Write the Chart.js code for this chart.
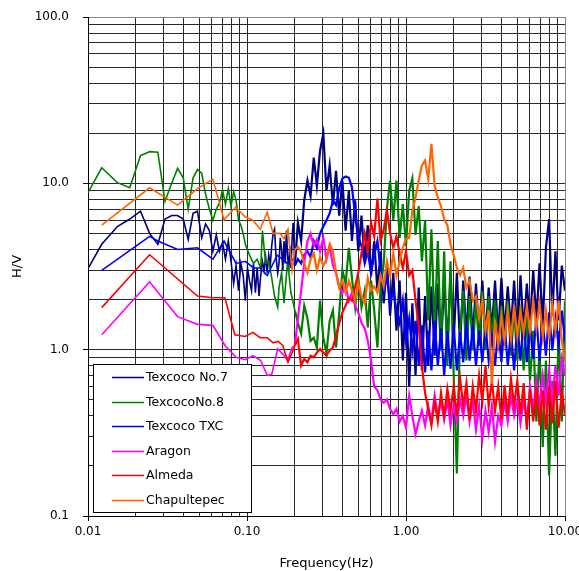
<!DOCTYPE html>
<html>
<head>
<meta charset="utf-8">
<script src="https://cdn.jsdelivr.net/npm/chart.js@4.4.0/dist/chart.umd.min.js"></script>
<style>
  body { margin: 0; background: #fff; }
  canvas { display: block; }
</style>
</head>
<body>
<canvas id="myChart" width="579" height="571"></canvas>
<script>
// Frecuencias comunes para la parte densa (0.2 - 10 Hz)
const freqHi = [
  0.200, 0.209, 0.219, 0.229, 0.240, 0.251, 0.263, 0.275, 0.288, 0.302,
  0.316, 0.331, 0.347, 0.363, 0.380, 0.398, 0.417, 0.437, 0.457, 0.479,
  0.501, 0.525, 0.550, 0.575, 0.603, 0.631, 0.661, 0.692, 0.724, 0.759,
  0.794, 0.832, 0.871, 0.912, 0.955, 1.000, 1.047, 1.096, 1.148, 1.202,
  1.259, 1.318, 1.380, 1.445, 1.514, 1.585, 1.660, 1.738, 1.820, 1.905,
  1.995, 2.089, 2.188, 2.291, 2.399, 2.512, 2.630, 2.754, 2.884, 3.020,
  3.162, 3.311, 3.467, 3.631, 3.802, 3.981, 4.169, 4.365, 4.571, 4.786,
  5.012, 5.248, 5.495, 5.754, 6.026, 6.310, 6.607, 6.918, 7.244, 7.586,
  7.943, 8.318, 8.710, 9.120, 9.550, 10.00
]

// Texcoco No.7
const tx7Freq = [0.01, 0.0122, 0.0153, 0.0183, 0.0214, 0.0244, 0.0275, 0.0305, 0.0336, 0.0366,
  0.0397, 0.0427, 0.0458, 0.0488, 0.0519, 0.0549, 0.058, 0.061, 0.0641, 0.0671,
  0.0702, 0.0732, 0.0763, 0.0793, 0.0824, 0.0854, 0.0885, 0.0915, 0.0946, 0.0976,
  0.1007, 0.1037, 0.1068, 0.1098, 0.1129, 0.1159, 0.119, 0.122, 0.125, 0.128,
  0.131, 0.134, 0.137, 0.140, 0.143, 0.146, 0.149, 0.152, 0.156, 0.159,
  0.162, 0.165, 0.168, 0.171, 0.174, 0.177, 0.180, 0.183, 0.186, 0.189, 0.192, 0.195]
const tx7Low = [3.07, 4.3, 5.5, 6.1, 6.8, 5.0, 4.3, 6.1, 6.4, 6.4,
  6.1, 4.6, 6.6, 6.8, 4.7, 5.7, 5.2, 3.9, 4.9, 3.9,
  4.4, 3.5, 4.5, 3.4, 2.5, 3.2, 2.26, 3.3, 2.8, 1.97,
  3.1, 2.6, 2.26, 3.3, 2.2, 3.1, 2.1, 2.8, 3.4, 3.0,
  3.6, 2.9, 3.7, 3.2, 4.2, 5.0, 5.3, 3.7, 2.9, 3.3,
  4.7, 4.0, 3.0, 4.5, 3.3, 5.2, 3.7, 3.0, 4.2, 3.1, 4.5, 5.8]
const tx7Hi = [
  3.2, 5.8, 4.5, 7.9, 10.4, 8.4, 14.3, 9.7, 15.7, 19.9,
  9.0, 12.8, 7.4, 11.9, 6.4, 10.4, 5.2, 9.0, 4.5, 7.9,
  3.9, 6.4, 3.4, 5.6, 2.8, 4.5, 2.26, 3.9, 1.9, 3.3,
  1.6, 2.9, 1.3, 2.6, 0.86, 2.2, 0.6, 1.9, 0.7, 2.36,
  0.75, 2.1, 0.8, 2.4, 0.92, 2.5, 0.99, 2.7, 1.06, 2.8,
  1.13, 2.9, 1.06, 2.6, 1.2, 2.75, 1.16, 2.5, 1.26, 2.6,
  1.2, 2.36, 1.3, 2.6, 1.2, 2.7, 1.26, 2.4, 1.34, 2.6,
  1.2, 2.8, 1.3, 2.5, 1.4, 3.0, 1.5, 3.3, 1.4, 4.1,
  6.1, 1.6, 3.9, 1.5, 3.2, 2.26]

// TexcocoNo.8
const tx8Freq = [0.01, 0.0122, 0.0153, 0.0183, 0.0214, 0.0244, 0.0275, 0.0305, 0.0336, 0.0366,
  0.0397, 0.0427, 0.0458, 0.0488, 0.0519, 0.0549, 0.058, 0.061, 0.0641, 0.0671,
  0.0702, 0.0732, 0.0763, 0.0793, 0.0824, 0.0854, 0.0885, 0.0915, 0.0946, 0.0976,
  0.1037, 0.1098, 0.1159, 0.122, 0.125, 0.131, 0.137, 0.143, 0.149, 0.156,
  0.159, 0.165, 0.171, 0.180, 0.189]
const tx8Low = [8.8, 12.4, 10.1, 9.4, 14.7, 15.5, 15.4, 7.8, 10.0, 12.3,
  10.8, 7.0, 10.8, 12.1, 11.5, 8.6, 7.0, 6.0, 7.0, 7.6,
  9.1, 7.5, 9.3, 7.3, 8.9, 7.9, 6.0, 5.6, 5.0, 4.3,
  3.7, 3.3, 3.5, 3.1, 5.2, 3.3, 3.4, 2.7, 2.1, 1.8,
  2.36, 2.9, 1.9, 3.4, 2.2]
const tx8Hi = [
  1.72, 1.45, 1.25, 1.84, 1.54, 1.13, 1.18, 1.03, 1.97, 1.18,
  0.95, 1.49, 1.72, 1.03, 1.65, 3.0, 2.5, 4.1, 2.7, 1.8,
  2.7, 1.8, 2.26, 1.36, 2.6, 1.72, 1.03, 2.36, 3.3, 7.1,
  10.4, 6.0, 10.4, 4.7, 7.5, 4.2, 9.0, 10.7, 4.9, 7.3,
  3.4, 6.0, 1.5, 5.3, 1.3, 4.5, 1.0, 3.9, 0.8, 3.4,
  0.7, 0.18, 1.3, 2.26, 0.86, 2.1, 0.99, 1.97, 1.06, 2.26,
  1.0, 2.1, 1.13, 1.97, 0.99, 1.84, 1.06, 1.97, 0.92, 1.72,
  0.86, 1.84, 0.75, 1.6, 0.65, 1.3, 0.37, 1.06, 0.26, 0.86,
  0.175, 0.65, 0.23, 1.3, 0.37, 1.97]

// Texcoco TXC
const txcFreq = [0.0122, 0.0244, 0.0275, 0.0366, 0.0488, 0.061, 0.0717, 0.0854, 0.0976, 0.11,
  0.121, 0.134, 0.155, 0.18, 0.195]
const txcLow = [3.0, 4.8, 4.5, 4.0, 4.1, 3.5, 4.5, 3.3, 3.4, 3.1,
  3.1, 2.8, 3.7, 3.3, 3.5]
const txcHi = [
  3.2, 3.5, 3.3, 3.7, 3.9, 3.6, 4.5, 4.1, 5.0, 5.5,
  6.0, 6.6, 7.9, 7.4, 9.3, 10.7, 11.0, 10.8, 9.5, 6.4,
  4.8, 4.2, 3.3, 3.9, 2.9, 3.7, 4.5, 3.0, 2.2, 2.8,
  1.9, 2.26, 1.72, 1.45, 1.97, 1.13, 1.54, 0.99, 1.49, 0.8,
  1.4, 0.73, 1.3, 0.75, 1.49, 0.8, 1.34, 0.7, 1.3, 0.77,
  1.4, 0.75, 1.27, 0.84, 1.45, 0.86, 1.4, 0.8, 1.3, 0.84,
  1.4, 0.86, 1.2, 0.8, 1.34, 0.84, 1.45, 0.8, 1.3, 0.75,
  1.4, 0.86, 1.54, 0.84, 1.4, 0.88, 1.6, 0.86, 1.49, 0.92,
  1.67, 0.99, 1.54, 1.06, 1.72, 1.13]

// Aragon
const aragonFreq = [0.0122, 0.0244, 0.0366, 0.0488, 0.061, 0.0732, 0.0854, 0.0976, 0.109, 0.122,
  0.134, 0.143, 0.156, 0.168, 0.18, 0.192]
const aragonLow = [1.23, 2.55, 1.58, 1.42, 1.40, 1.05, 0.90, 0.87, 0.92, 0.86,
  0.70, 0.71, 1.01, 0.94, 0.86, 1.03]
const aragonHi = [
  1.06, 1.54, 2.26, 3.3, 4.5, 5.0, 4.2, 4.6, 3.9, 4.7,
  3.5, 4.2, 3.2, 2.9, 2.4, 2.2, 2.4, 1.97, 2.2, 1.84,
  1.67, 1.45, 1.34, 1.13, 0.86, 0.6, 0.57, 0.5, 0.48, 0.5,
  0.44, 0.41, 0.44, 0.37, 0.4, 0.34, 0.53, 0.4, 0.31, 0.37,
  0.43, 0.35, 0.46, 0.37, 0.53, 0.4, 0.49, 0.38, 0.5, 0.35,
  0.46, 0.37, 0.5, 0.4, 0.53, 0.37, 0.49, 0.33, 0.46, 0.29,
  0.43, 0.32, 0.46, 0.28, 0.4, 0.35, 0.49, 0.37, 0.53, 0.4,
  0.49, 0.36, 0.5, 0.37, 0.6, 0.43, 0.65, 0.46, 0.7, 0.49,
  0.75, 0.5, 0.8, 0.53, 0.88, 0.7]

// Almeda
const almedaFreq = [0.0122, 0.0244, 0.0488, 0.061, 0.0726, 0.0838, 0.0972, 0.109, 0.121, 0.134,
  0.146, 0.157, 0.168, 0.181, 0.195]
const almedaLow = [1.79, 3.72, 2.1, 2.05, 2.05, 1.23, 1.2, 1.27, 1.18, 1.18,
  1.1, 1.12, 1.06, 0.84, 0.99]
const almedaHi = [
  1.06, 1.16, 0.8, 0.88, 0.84, 0.92, 0.9, 0.96, 1.01, 0.96,
  0.92, 0.99, 1.03, 1.21, 1.43, 1.67, 1.84, 2.05, 1.97, 2.4,
  2.9, 3.8, 5.0, 3.9, 5.8, 4.8, 8.1, 4.5, 5.3, 6.85,
  5.0, 4.1, 4.8, 3.8, 3.1, 3.9, 2.8, 3.0, 1.97, 1.4,
  0.8, 0.55, 0.44, 0.35, 0.49, 0.37, 0.55, 0.4, 0.58, 0.43,
  0.6, 0.4, 0.67, 0.46, 0.63, 0.38, 0.6, 0.43, 0.7, 0.49,
  0.8, 0.46, 0.65, 0.43, 0.6, 0.38, 0.61, 0.4, 0.67, 0.46,
  0.65, 0.41, 0.63, 0.33, 0.58, 0.37, 0.6, 0.35, 0.57, 0.33,
  0.6, 0.36, 0.65, 0.34, 0.57, 0.4]

// Chapultepec
const chapuFreq = [0.0122, 0.0244, 0.0366, 0.0488, 0.061, 0.0717, 0.085, 0.0972, 0.109, 0.121,
  0.134, 0.146, 0.161, 0.171, 0.181, 0.192]
const chapuLow = [5.6, 9.4, 7.4, 9.3, 10.6, 6.05, 7.2, 6.3, 6.0, 5.3,
  6.7, 5.0, 5.0, 4.65, 5.3, 3.0]
const chapuHi = [
  4.0, 4.15, 3.9, 3.3, 2.9, 3.5, 3.8, 3.0, 3.6, 3.2,
  3.5, 4.3, 3.9, 2.9, 2.36, 2.6, 2.2, 2.6, 2.26, 1.97,
  2.5, 2.1, 1.9, 2.7, 2.26, 2.4, 2.2, 2.8, 2.4, 3.4,
  2.8, 3.8, 2.8, 3.4, 4.1, 4.65, 4.7, 6.85, 8.2, 10.4,
  12.8, 13.7, 10.6, 17.3, 9.7, 8.2, 7.3, 6.1, 5.6, 4.3,
  3.7, 3.1, 2.8, 3.1, 2.36, 2.6, 1.97, 2.1, 1.54, 1.97,
  1.3, 1.72, 0.62, 1.49, 1.06, 1.6, 1.13, 1.72, 1.16, 1.84,
  1.2, 1.72, 1.26, 1.84, 1.3, 1.97, 1.34, 1.9, 1.2, 1.72,
  1.16, 1.9, 1.3, 1.97, 1.13, 0.86]

// Rejilla y etiquetas de los ejes
const xGrid = [0.01, 0.02, 0.03, 0.04, 0.05, 0.06, 0.07, 0.08, 0.09,
  0.1, 0.2, 0.3, 0.4, 0.5, 0.6, 0.7, 0.8, 0.9,
  1, 2, 3, 4, 5, 6, 7, 8, 9, 10]
const xMajor = [0.01, 0.1, 1, 10]
const xTickLabels = ["0.01", "0.10", "1.00", "10.00"]
const yGrid = [0.1, 0.2, 0.3, 0.4, 0.5, 0.6, 0.7, 0.8, 0.9,
  1, 2, 3, 4, 5, 6, 7, 8, 9,
  10, 20, 30, 40, 50, 60, 70, 80, 90, 100]
const yMajor = [0.1, 1, 10, 100]
const yTickLabels = ["0.1", "1.0", "10.0", "100.0"]

const indexOfMajor = (list, v) => list.findIndex((m) => Math.abs(m - v) < m * 1e-6)

function serie(lowF, lowV, hiV) {
  const low = lowF.map((f, i) => ({ x: f, y: lowV[i] }))
  const hi = freqHi.map((f, i) => ({ x: f, y: hiV[i] }))
  return low.concat(hi)
}

const series = [
  { label: "Texcoco No.7", color: "#000080", data: serie(tx7Freq, tx7Low, tx7Hi) },
  { label: "TexcocoNo.8", color: "#008000", data: serie(tx8Freq, tx8Low, tx8Hi) },
  { label: "Texcoco TXC", color: "#0000FF", data: serie(txcFreq, txcLow, txcHi) },
  { label: "Aragon", color: "#FF00FF", data: serie(aragonFreq, aragonLow, aragonHi) },
  { label: "Almeda", color: "#FF0000", data: serie(almedaFreq, almedaLow, almedaHi) },
  { label: "Chapultepec", color: "#FF6600", data: serie(chapuFreq, chapuLow, chapuHi) },
]

// Leyenda dentro del area del grafico (abajo a la izquierda)
const leyendaPlugin = {
  id: "leyenda",
  afterDraw(chart) {
    const ctx = chart.ctx
    const area = chart.chartArea
    const x0 = area.left + 5
    const y0 = area.bottom - 152
    ctx.save()
    ctx.fillStyle = "#fff"
    ctx.fillRect(x0, y0, 158, 148)
    ctx.strokeStyle = "#000"
    ctx.lineWidth = 1
    ctx.strokeRect(x0 + 0.5, y0 + 0.5, 158, 148)
    ctx.font = '12.5px "DejaVu Sans"'
    ctx.textBaseline = "middle"
    chart.data.datasets.forEach((ds, i) => {
      const y = Math.round(y0 + 13 + i * 24.6) + 0.5
      ctx.strokeStyle = ds.borderColor
      ctx.lineWidth = 1.5
      ctx.beginPath()
      ctx.moveTo(x0 + 19, y)
      ctx.lineTo(x0 + 51, y)
      ctx.stroke()
      ctx.fillStyle = "#000"
      ctx.fillText(ds.label, x0 + 53, y)
    })
    ctx.restore()
  }
}

const config = {
  type: "line",
  data: {
    datasets: series.map((s, i) => ({
      label: s.label,
      data: s.data,
      borderColor: s.color,
      backgroundColor: s.color,
      borderWidth: 1.6,
      // la parte densa (alta frecuencia) se ve mas gruesa
      segment: { borderWidth: (c) => (c.p0.parsed.x >= 0.2 ? 2.2 : 1.6) },
      pointRadius: 0,
      tension: 0,
      fill: false,
      order: series.length - i
    }))
  },
  options: {
    responsive: false,
    animation: false,
    devicePixelRatio: 1,
    layout: { padding: { top: 17, right: 14, bottom: 0, left: 0 } },
    plugins: { legend: { display: false }, tooltip: { enabled: false } },
    scales: {
      x: {
        type: "logarithmic",
        min: 0.01,
        max: 10,
        afterBuildTicks: (scale) => { scale.ticks = xGrid.map((v) => ({ value: v })) },
        afterFit: (scale) => { scale.height = 55; scale.paddingLeft = 0; scale.paddingRight = 0 },
        grid: {
          color: (c) => (c.tick && c.tick.value === 10 ? "#888" : "#2a2a2a"),
          lineWidth: 1,
          tickLength: 5,
          tickColor: (c) => (c.tick && indexOfMajor(xMajor, c.tick.value) >= 0 ? "#000" : "rgba(0,0,0,0)")
        },
        border: { color: "#000", width: 1 },
        ticks: {
          autoSkip: false,
          maxRotation: 0,
          padding: 4,
          color: "#000",
          font: { family: "DejaVu Sans", size: 12 },
          callback: (v) => {
            const i = indexOfMajor(xMajor, v)
            return i >= 0 ? xTickLabels[i] : ""
          }
        },
        title: {
          display: true,
          text: "Frequency(Hz)",
          color: "#000",
          font: { family: "DejaVu Sans", size: 13 },
          padding: { top: 0, bottom: 0 }
        }
      },
      y: {
        type: "logarithmic",
        min: 0.1,
        max: 100,
        afterBuildTicks: (scale) => { scale.ticks = yGrid.map((v) => ({ value: v })) },
        afterFit: (scale) => { scale.width = 88; scale.paddingTop = 0; scale.paddingBottom = 0 },
        grid: {
          color: (c) => (c.tick && c.tick.value === 100 ? "#888" : "#2a2a2a"),
          lineWidth: 1,
          tickLength: 5,
          tickColor: (c) => (c.tick && indexOfMajor(yMajor, c.tick.value) >= 0 ? "#000" : "rgba(0,0,0,0)")
        },
        border: { color: "#000", width: 1 },
        ticks: {
          autoSkip: false,
          padding: 14,
          color: "#000",
          font: { family: "DejaVu Sans", size: 12 },
          callback: (v) => {
            const i = indexOfMajor(yMajor, v)
            return i >= 0 ? yTickLabels[i] : ""
          }
        },
        title: {
          display: true,
          text: "H/V",
          color: "#000",
          font: { family: "DejaVu Sans", size: 13 },
          padding: { top: 10, bottom: 0 }
        }
      }
    }
  },
  plugins: [leyendaPlugin]
}

const myChartElement = document.getElementById("myChart")
window.myChartInstance = new Chart(myChartElement, config)
</script>
</body>
</html>
